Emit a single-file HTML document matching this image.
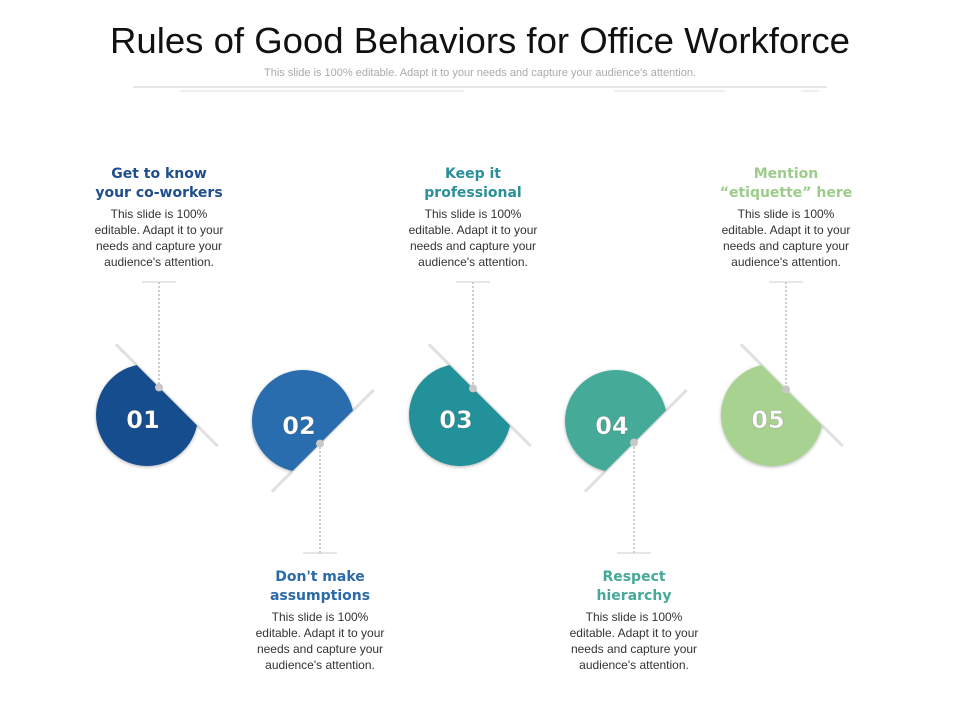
<!DOCTYPE html>
<html><head><meta charset="utf-8"><style>
html,body{margin:0;padding:0;background:#fff;}
body{width:960px;height:720px;overflow:hidden;font-family:"Liberation Sans",sans-serif;}
</style></head><body>
<svg width="960" height="720" viewBox="0 0 960 720" xmlns="http://www.w3.org/2000/svg">
<defs>
<filter id="sh" x="-20%" y="-20%" width="140%" height="140%"><feDropShadow dx="0" dy="1" stdDeviation="1.5" flood-color="#000" flood-opacity="0.3"/></filter>
</defs>
<text x="480" y="53" text-anchor="middle" font-family="Liberation Sans, sans-serif" font-size="36" fill="#111" textLength="740" lengthAdjust="spacingAndGlyphs">Rules of Good Behaviors for Office Workforce</text>
<text x="480" y="76" text-anchor="middle" font-size="11" fill="#aaa">This slide is 100% editable. Adapt it to your needs and capture your audience's attention.</text>
<line x1="133" y1="87" x2="827" y2="87" stroke="#ccc" stroke-width="1"/>
<g stroke="#ddd" stroke-width="1">
<line x1="180" y1="91" x2="464" y2="91"/><line x1="614" y1="91" x2="725" y2="91"/><line x1="801" y1="91" x2="819" y2="91"/>
</g>
<g id="items"></g>
</svg>
<script>
const labels=["01","02","03","04","05"];
const colors=["#174e8f","#2a6daf","#22919a","#44ab98","#a8d290"];
const headColors=["#1f4e8c","#2a6aa8","#2a8f98","#45a898","#9ccc8a"];
const heads=[["Get to know","your co-workers"],["Don't make","assumptions"],["Keep it","professional"],["Respect","hierarchy"],["Mention","\u201cetiquette\u201d here"]];
const bodyLines=["This slide is 100%","editable. Adapt it to your","needs and capture your","audience's attention."];
const centersX=[147,303,460,616,772];
const isTop=[true,false,true,false,true];
const textX=[159,320,473,634,786];
const NS="http://www.w3.org/2000/svg";
const g=document.getElementById('items');
function el(t,a,p){const e=document.createElementNS(NS,t);for(const k in a)e.setAttribute(k,a[k]);(p||g).appendChild(e);return e;}
labels.forEach((lab,i)=>{
  const up=isTop[i];
  const cx=centersX[i];
  const cy=up?415:421;
  const tx=textX[i];
  const grp=el('g',{});
  
  
  const rot=up?-45:45;
  const d=28;
  const cp=el('clipPath',{id:'c'+i},grp);
  el('rect',{x:-60,y:-60,width:60+d,height:120,transform:`translate(${cx},${cy}) rotate(${rot})`},cp);
  const ln=el('line',{x1:d,y1:-72,x2:d,y2:72,stroke:'#ccc','stroke-width':3,transform:`translate(${cx},${cy}) rotate(${rot})`,opacity:0.6},grp);
  
  
  const c=el('circle',{cx:cx,cy:cy,r:51,fill:colors[i],'clip-path':`url(#c${i})`,filter:'url(#sh)'},grp);
  
  
  const t=el('text',{x:cx-4,y:cy+13,'text-anchor':'middle','font-family':'DejaVu Sans, sans-serif','font-weight':'bold','font-size':24,fill:'#fff',stroke:'rgba(0,0,0,0.25)','stroke-width':0.6},grp);
  t.textContent=lab;
  
  
  const ang=rot*Math.PI/180;
  const dx=tx-cx;
  const nx=Math.cos(ang), ny=Math.sin(ang);
  const dy=(d-dx*nx)/ny;
  const dotY=cy+dy;
  const y0=up?282:553;
  const vl=el('line',{x1:tx,y1:y0,x2:tx,y2:dotY,stroke:'#999','stroke-width':1,'stroke-dasharray':'2,2'},grp);
  
  
  const hl=el('line',{x1:tx-17,y1:y0,x2:tx+17,y2:y0,stroke:'#ccc','stroke-width':1},grp);
  
  
  const dot=el('circle',{cx:tx,cy:dotY,r:4,fill:'#c8c8c8'},grp);
  
  
  const hb=up?178:581;
  heads[i].forEach((h,j)=>{
    const ht=el('text',{x:tx,y:hb+j*19,'text-anchor':'middle','font-family':'DejaVu Sans, sans-serif','font-weight':'bold','font-size':14,fill:headColors[i]},grp);
    ht.textContent=h;
    
    
  });
  bodyLines.forEach((b,j)=>{
    const bt=el('text',{x:tx,y:hb+40+j*16,'text-anchor':'middle','font-size':12,fill:'#333'},grp);
    bt.textContent=b;
    
    
  });
});
</script>
</body></html>
